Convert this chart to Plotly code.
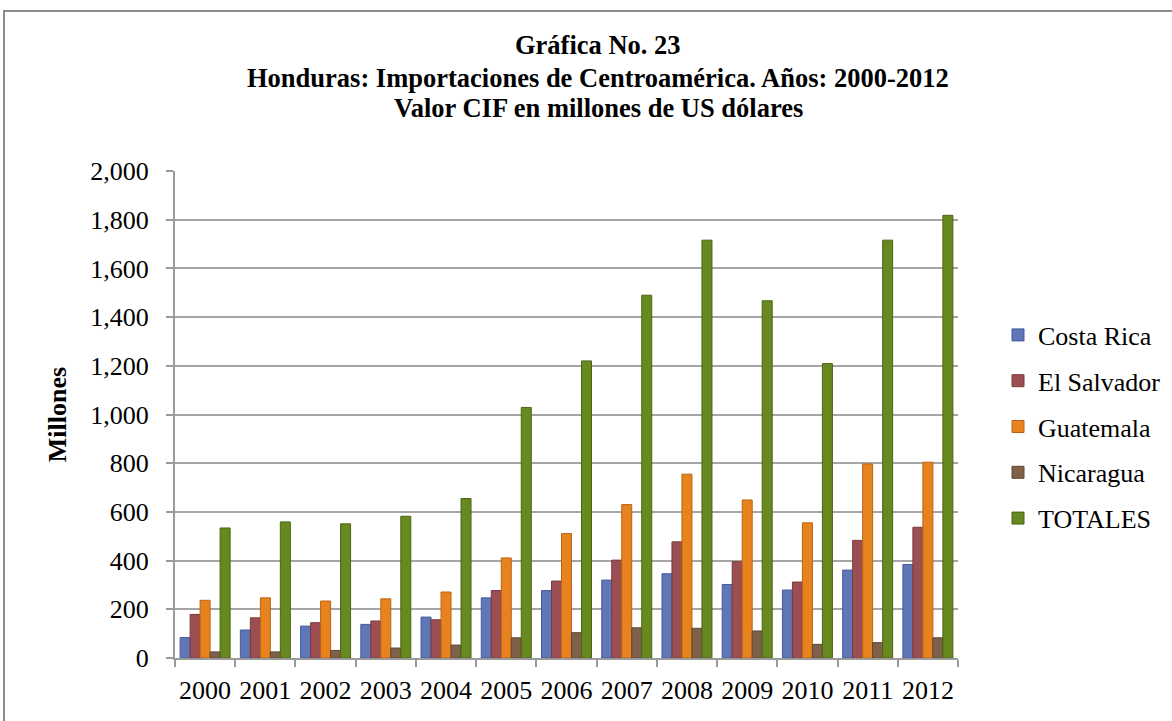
import plotly.graph_objects as go

years = ["2000", "2001", "2002", "2003", "2004", "2005", "2006",
         "2007", "2008", "2009", "2010", "2011", "2012"]
costa_rica = [84, 115, 131, 138, 168, 247, 277, 320, 346, 302, 279, 361, 384]
el_salvador = [179, 165, 145, 152, 157, 277, 316, 402, 477, 395, 312, 483, 537]
guatemala = [237, 247, 234, 243, 271, 411, 511, 630, 755, 649, 555, 797, 804]
nicaragua = [25, 25, 31, 41, 53, 83, 104, 124, 122, 111, 56, 63, 83]
totales = [534, 559, 551, 582, 655, 1029, 1220, 1490, 1716, 1467, 1209, 1716, 1818]

title_lines = ["Gráfica No. 23",
               "Honduras: Importaciones de Centroamérica. Años: 2000-2012",
               "Valor CIF en millones de US dólares"]

series = [
    ("Costa Rica", costa_rica, "#5f77b6", "#46599a"),
    ("El Salvador", el_salvador, "#9c4f52", "#7a3a3d"),
    ("Guatemala", guatemala, "#e8821f", "#b86414"),
    ("Nicaragua", nicaragua, "#7e6148", "#5e4733"),
    ("TOTALES", totales, "#67891f", "#4a6415"),
]

SERIF = "Liberation Serif, Times New Roman, serif"

fig = go.Figure()
for i, (name, vals, col, edge) in enumerate(series):
    fig.add_trace(go.Bar(
        x=years, y=vals, name=name, legendgroup=f"g{i}",
        marker=dict(color=col, line=dict(color=edge, width=1)),
    ))

W, H = 1172, 721
L, R, T, B = 175, W - 958, 171, H - 658
pw, ph = W - L - R, H - T - B


def px_x(x):
    return (x - L) / pw


def px_y(y):
    return (H - B - y) / ph


annotations = []
for txt, yc in zip(title_lines, [45, 78, 108]):
    annotations.append(dict(
        text=f"<b>{txt}</b>", xref="paper", yref="paper",
        x=px_x(598), y=px_y(yc), xanchor="center", yanchor="middle",
        showarrow=False, font=dict(family=SERIF, size=26.5, color="black"),
    ))

fig.update_layout(
    width=W, height=H,
    margin=dict(l=L, r=R, t=T, b=B, autoexpand=False),
    paper_bgcolor="white", plot_bgcolor="white",
    barmode="group", bargap=0.17, bargroupgap=0.0,
    font=dict(family=SERIF, color="black", size=26),
    legend=dict(
        x=px_x(998), xanchor="left",
        y=px_y(427), yanchor="middle",
        font=dict(family=SERIF, size=26, color="black"),
        traceorder="grouped", tracegroupgap=9,
        itemwidth=30, bgcolor="rgba(0,0,0,0)",
    ),
    xaxis=dict(
        type="category", tickson="boundaries", tickangle=0,
        ticks="outside", ticklen=7, tickcolor="#9a9a9a", tickwidth=2,
        showline=True, linecolor="#9a9a9a", linewidth=2,
        showgrid=False, ticklabelstandoff=8, automargin=False,
        tickfont=dict(family=SERIF, size=26, color="black"),
    ),
    yaxis=dict(
        range=[0, 2000], dtick=200, tickformat=",",
        ticks="outside", ticklen=7, tickcolor="#9a9a9a", tickwidth=2,
        showline=True, linecolor="#9a9a9a", linewidth=2,
        showgrid=True, gridcolor="#a6a6a6", gridwidth=2,
        zeroline=False, ticklabelstandoff=12, automargin=False,
        tickfont=dict(family=SERIF, size=26, color="black"),
        title=dict(text="<b>Millones</b>", standoff=16,
                   font=dict(family=SERIF, size=26, color="black")),
    ),
    annotations=annotations,
    shapes=[dict(
        type="rect", xref="paper", yref="paper",
        x0=px_x(4), x1=px_x(1185),
        y0=px_y(735), y1=px_y(11),
        line=dict(color="#8c8c8c", width=2), fillcolor="rgba(0,0,0,0)",
        layer="below",
    )],
)

fig.write_html("out.html", config={"displayModeBar": False},
               post_script="document.body.style.margin='0';document.body.style.overflow='hidden';")
